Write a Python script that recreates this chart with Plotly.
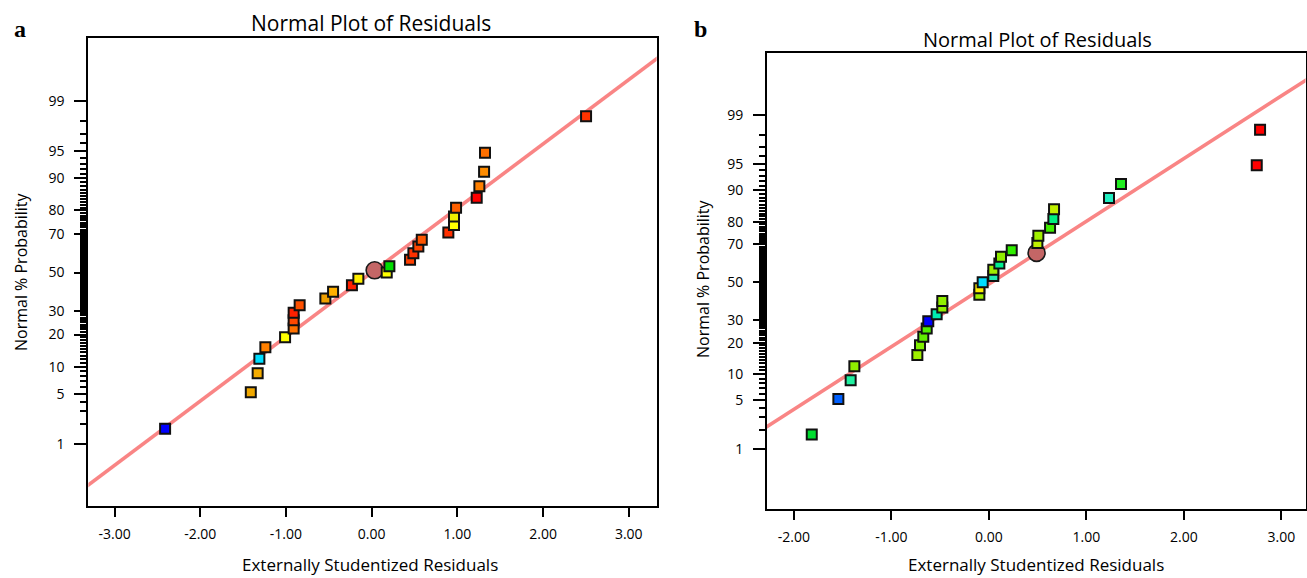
import plotly.graph_objects as go
from statistics import NormalDist

_nd = NormalDist()


def probit(pct):
    """Normal-probability scale: percent -> standard normal quantile."""
    return _nd.inv_cdf(pct / 100.0)


# ---- shared probability axis ----
prob_tick_labels = [1, 5, 10, 20, 30, 50, 70, 80, 90, 95, 99]
prob_minor = [p for p in range(1, 100) if p not in prob_tick_labels]

# normal % probability of the ordered residuals
prob_pct = [1.7, 5.2, 8.6, 12.1, 15.5, 19.0, 22.4, 25.9, 29.3, 32.8, 36.2, 39.7,
            43.1, 46.6, 50.0, 53.4, 56.9, 60.3, 63.8, 67.2, 70.7, 74.1, 77.6,
            81.0, 84.5, 87.9, 91.4, 94.8, 98.3]

# ---- panel a ----
resid_a = [-2.41, -1.41, -1.33, -1.31, -1.24, -1.01, -0.91, -0.91, -0.91, -0.84,
           -0.54, -0.45, -0.23, -0.155, 0.176, 0.207, 0.448, 0.487, 0.545, 0.585,
           0.895, 0.961, 0.961, 0.985, 1.226, 1.257, 1.312, 1.323, 2.502]
colors_a = ["#0000ff", "#f0a800", "#f5ac00", "#00ddff", "#ff8000", "#ffff00",
            "#ff7000", "#ff4800", "#ff2000", "#ff5000", "#f0a000", "#ffb000",
            "#ff2000", "#ffee00", "#ffff00", "#00dd00", "#ff4000", "#ff3000",
            "#ff4500", "#ff5500", "#ff3000", "#ffff00", "#f0f000", "#ff6000",
            "#ff0000", "#ff8000", "#ff8c00", "#ff7000", "#ff3300"]
fit_mean_a, fit_sd_a = 0.0, 1.146
center_a = (0.035, 51.2)
x_ticks_a = [-3, -2, -1, 0, 1, 2, 3]
x_range_a = [-3.305, 3.325]
y_range_a = [-3.168, 3.178]

# ---- panel b ----
resid_b = [-1.816, -1.543, -1.417, -1.379, -0.733, -0.706, -0.672, -0.637, -0.621,
           -0.535, -0.477, -0.477, -0.097, -0.097, -0.063, 0.046, 0.046, 0.108,
           0.125, 0.235, 0.498, 0.508, 0.628, 0.662, 0.669, 1.233, 1.356, 2.748,
           2.782]
colors_b = ["#00dd30", "#0060ff", "#20f0a0", "#90ee00", "#a0f000", "#80f000",
            "#60ee00", "#50ee00", "#0000ff", "#00eeb0", "#90ee00", "#90ee00",
            "#a0ee00", "#ffee00", "#00ddff", "#20eeb0", "#a0ee00", "#00ee90",
            "#90ee00", "#30ee00", "#c0f000", "#a0f000", "#40ee00", "#00ee80",
            "#c0f000", "#20eec0", "#20ee20", "#ff0000", "#ff0000"]
fit_mean_b, fit_sd_b = 0.03, 1.146
center_b = (0.49, 65.8)
x_ticks_b = [-2, -1, 0, 1, 2, 3]
x_range_b = [-2.275, 3.248]
y_range_b = [-3.161, 3.185]

FONT = "Open Sans"
LINE_COLOR = "#f98585"

fig = go.Figure()


def add_panel(xa, ya, resid, colors, mean, sd, center, xr):
    # reference normal line across the full x range
    xs = [xr[0] - 0.5, xr[1] + 0.5]
    fig.add_trace(go.Scatter(
        x=xs, y=[(v - mean) / sd for v in xs], mode="lines",
        line=dict(color=LINE_COLOR, width=3.6),
        xaxis=xa, yaxis=ya, hoverinfo="skip", showlegend=False))
    # highlighted point
    fig.add_trace(go.Scatter(
        x=[center[0]], y=[probit(center[1])], mode="markers",
        marker=dict(symbol="circle", size=17, color="#c46666",
                    line=dict(color="#1a1a1a", width=1.6)),
        xaxis=xa, yaxis=ya, showlegend=False))
    # residuals
    fig.add_trace(go.Scatter(
        x=resid, y=[probit(p) for p in prob_pct], mode="markers",
        marker=dict(symbol="square", size=10, color=colors,
                    line=dict(color="#111111", width=2)),
        xaxis=xa, yaxis=ya, showlegend=False))


add_panel("x", "y", resid_a, colors_a, fit_mean_a, fit_sd_a, center_a, x_range_a)
add_panel("x2", "y2", resid_b, colors_b, fit_mean_b, fit_sd_b, center_b, x_range_b)


def x_axis(domain, ticks, rng, anchor):
    return dict(
        domain=domain, range=rng, anchor=anchor,
        tickmode="array", tickvals=ticks, ticktext=[f"{t:.2f}" for t in ticks],
        ticks="outside", ticklen=9, tickwidth=2, tickcolor="black",
        ticklabelstandoff=5,
        showline=True, linewidth=2, linecolor="black", mirror=True,
        showgrid=False, zeroline=False,
        tickfont=dict(family=FONT, size=14, color="black"))


def y_axis(domain, rng, anchor):
    return dict(
        domain=domain, range=rng, anchor=anchor,
        tickmode="array", tickvals=[probit(p) for p in prob_tick_labels],
        ticktext=[str(p) for p in prob_tick_labels],
        ticks="outside", ticklen=12, tickwidth=2, tickcolor="black",
        ticklabelstandoff=7,
        minor=dict(tickmode="array", tickvals=[probit(p) for p in prob_minor],
                   ticks="outside", ticklen=6, tickwidth=1.5, tickcolor="black",
                   showgrid=False),
        showline=True, linewidth=2, linecolor="black", mirror=True,
        showgrid=False, zeroline=False,
        tickfont=dict(family=FONT, size=14, color="black"))


W, H = 1307, 578
fig.update_layout(
    width=W, height=H,
    margin=dict(l=0, r=0, t=0, b=0),
    paper_bgcolor="white", plot_bgcolor="white",
    xaxis=x_axis([88.4 / W, 656.6 / W], x_ticks_a, x_range_a, "y"),
    yaxis=y_axis([1 - 506 / H, 1 - 38.3 / H], y_range_a, "x"),
    xaxis2=x_axis([767 / W, 1305.5 / W], x_ticks_b, x_range_b, "y2"),
    yaxis2=y_axis([1 - 509.3 / H, 1 - 53.3 / H], y_range_b, "x2"),
)

annotations = [
    # panel titles
    dict(text="Normal Plot of Residuals", x=371 / W, y=1 - 23 / H, size=21, angle=0,
         family=FONT),
    dict(text="Normal Plot of Residuals", x=1037 / W, y=1 - 39 / H, size=20, angle=0,
         family=FONT),
    # axis titles
    dict(text="Externally Studentized Residuals", x=370 / W, y=1 - 564 / H, size=17,
         angle=0, family=FONT),
    dict(text="Externally Studentized Residuals", x=1036 / W, y=1 - 564 / H, size=17,
         angle=0, family=FONT),
    dict(text="Normal % Probability", x=21 / W, y=1 - 272 / H, size=16, angle=-90,
         family=FONT),
    dict(text="Normal % Probability", x=703 / W, y=1 - 279 / H, size=16, angle=-90,
         family=FONT),
    # panel letters
    dict(text="<b>a</b>", x=20 / W, y=1 - 29 / H, size=24, angle=0,
         family="Liberation Serif"),
    dict(text="<b>b</b>", x=700 / W, y=1 - 29 / H, size=24, angle=0,
         family="Liberation Serif"),
]
for a in annotations:
    fig.add_annotation(
        text=a["text"], xref="paper", yref="paper", x=a["x"], y=a["y"],
        xanchor="center", yanchor="middle", showarrow=False, textangle=a["angle"],
        font=dict(family=a["family"], size=a["size"], color="black"))

fig.write_html("out.html")
